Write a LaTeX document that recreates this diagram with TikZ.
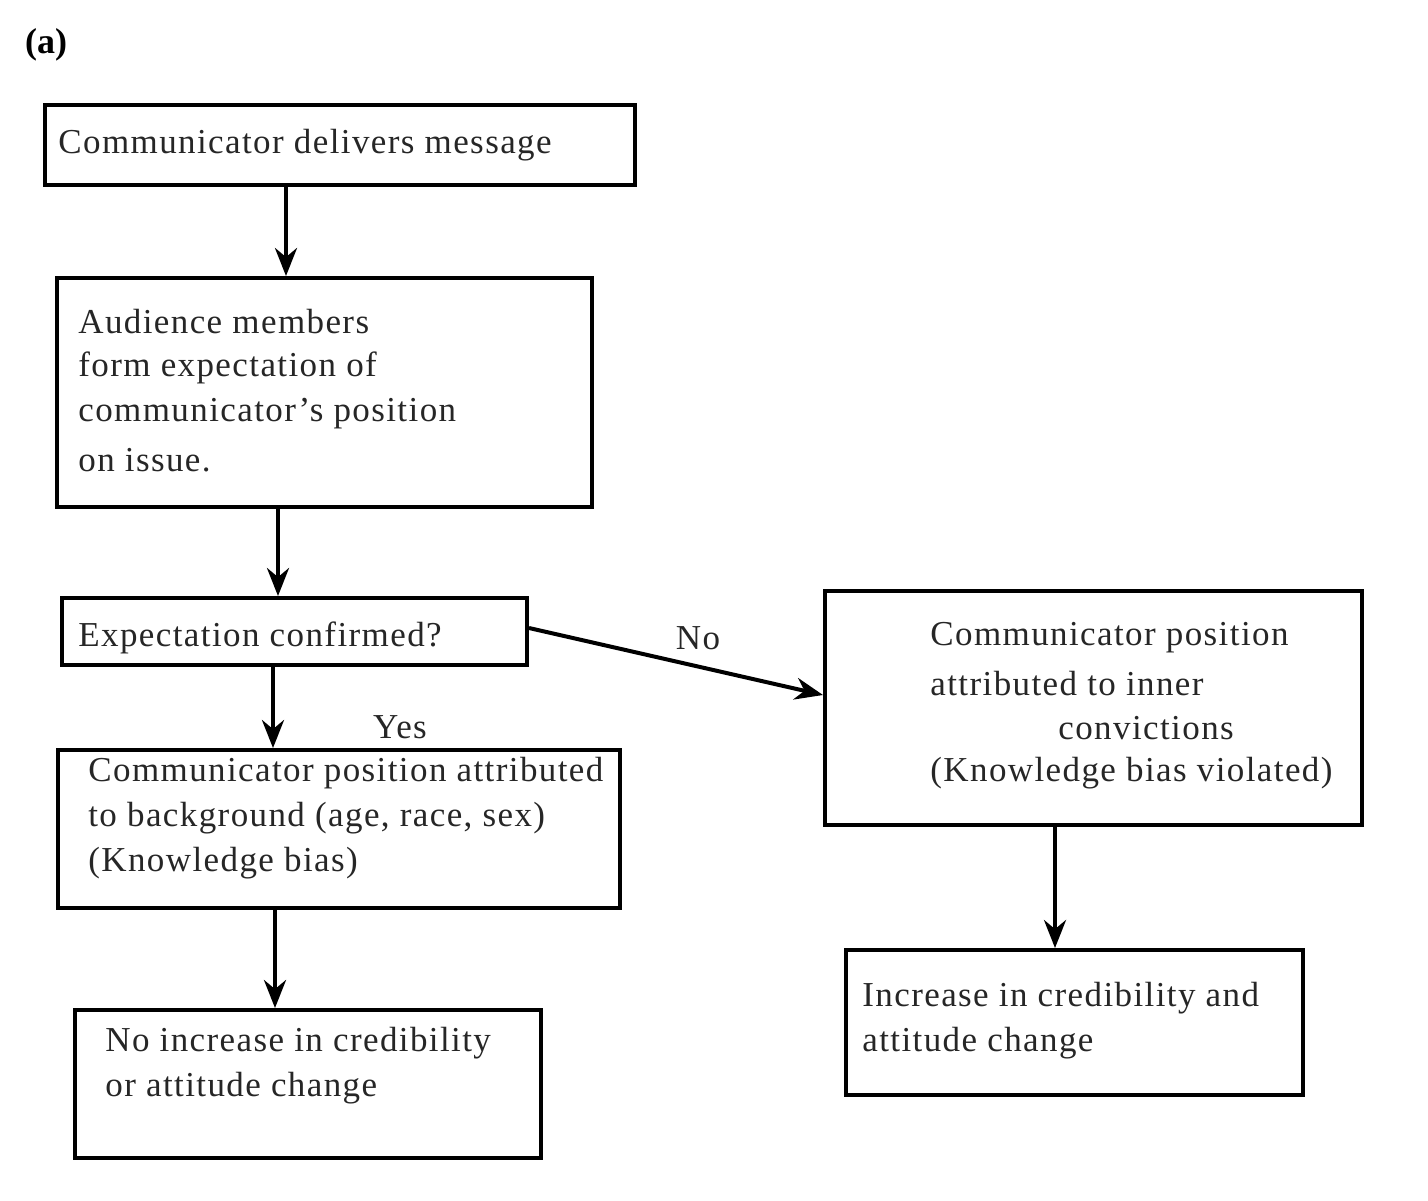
\documentclass[tikz,border=0pt]{standalone}
\usepackage{fontspec}
\setmainfont{Liberation Serif}
\newfontfamily\wide[LetterSpace=4]{Liberation Serif}
\usetikzlibrary{arrows.meta}
\begin{document}
\begin{tikzpicture}[x=0.5pt,y=-0.5pt,
  box/.style={draw,line width=2pt,inner sep=0pt},
  txt/.style={anchor=west,inner sep=0pt,font=\wide\fontsize{17.5}{20}\selectfont,text=black!85},
  arr/.style={line width=2pt,-{Stealth[length=14pt,width=11pt]}}]
\useasboundingbox (0,0) rectangle (1428,1200);
\node[anchor=west,font=\bfseries\fontsize{18}{20}\selectfont] (lab) at (18,45) {(a)};
\node[box,minimum width=295pt,minimum height=40pt] (b1) at (340,145) {};
\node[box,minimum width=267.5pt,minimum height=114.5pt] (b2) at (324.5,392.5) {};
\node[box,minimum width=232.5pt,minimum height=33.5pt] (b3) at (294.5,631.5) {};
\node[box,minimum width=281pt,minimum height=79pt] (b4) at (339,829) {};
\node[box,minimum width=233pt,minimum height=74pt] (b5) at (308,1084) {};
\node[box,minimum width=268.5pt,minimum height=117pt] (b6) at (1093.5,708) {};
\node[box,minimum width=228.5pt,minimum height=72.5pt] (b7) at (1074.5,1022.5) {};
\node[txt] (t1) at (58,145) {Communicator delivers message};
\node[txt] (t2a) at (78,322) {Audience members};
\node[txt] (t2b) at (78,368) {form expectation of};
\node[txt] (t2c) at (78,414) {communicator’s position};
\node[txt] (t2d) at (78,460) {on issue.};
\node[txt] (t3) at (78,638) {Expectation confirmed?};
\node[txt] (t4a) at (88,773) {Communicator position attributed};
\node[txt] (t4b) at (88,818) {to background (age, race, sex)};
\node[txt] (t4c) at (88,863) {(Knowledge bias)};
\node[txt] (t5a) at (105,1043) {No increase in credibility};
\node[txt] (t5b) at (105,1088) {or attitude change};
\node[txt] (t6a) at (930,638) {Communicator position};
\node[txt] (t6b) at (930,684) {attributed to inner};
\node[txt] (t6c) at (1058,728) {convictions};
\node[txt] (t6d) at (930,773) {(Knowledge bias violated)};
\node[txt] (t7a) at (862,998) {Increase in credibility and};
\node[txt] (t7b) at (862,1043) {attitude change};
\node[txt,anchor=center] (no) at (698,638) {No};
\node[txt,anchor=center] (yes) at (400,727) {Yes};
\draw[arr] (b1.south -| 286,0) -- (b2.north -| 286,0);
\draw[arr] (b2.south -| 278,0) -- (b3.north -| 278,0);
\draw[arr] (b3.south -| 273,0) -- (b4.north -| 273,0);
\draw[arr] (b4.south -| 275,0) -- (b5.north -| 275,0);
\draw[arr] (b3.east |- 0,628) -- (b6.west |- 0,695);
\draw[arr] (b6.south -| 1055,0) -- (b7.north -| 1055,0);
\end{tikzpicture}
\end{document}
